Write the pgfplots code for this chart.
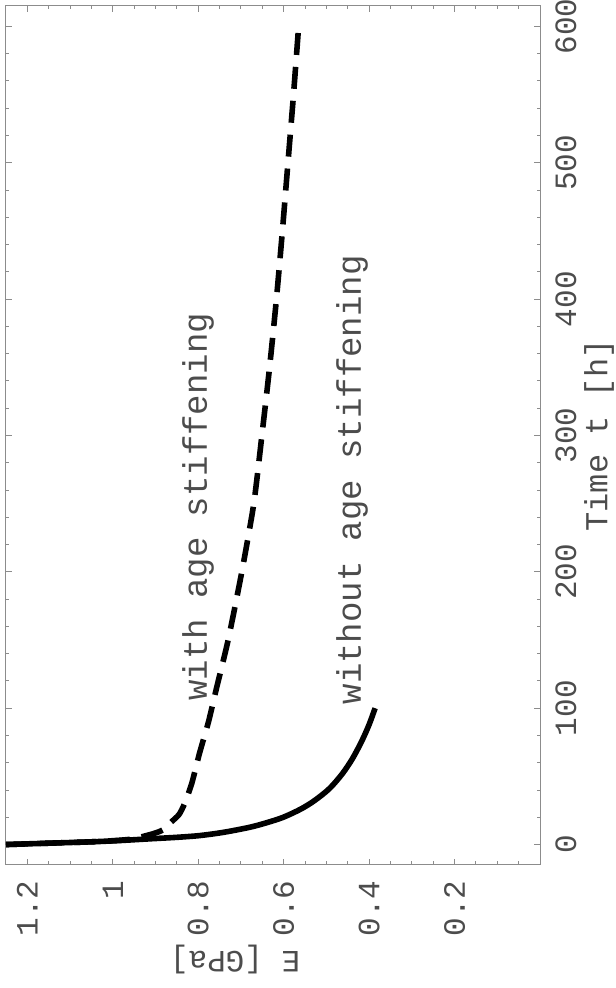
\documentclass[border=0pt]{standalone}
\usepackage{fontspec}
\setmainfont{Liberation Mono}
\usepackage{pgfplots}
\pgfplotsset{compat=1.18}
\begin{document}
\begin{tikzpicture}
\begin{axis}[
  scale only axis, width=267pt, height=429.5pt,
  x dir=reverse, xmin=0, xmax=1.25, ymin=-15, ymax=615,
  clip=false,
  xtick={0.2,0.4,0.6,0.8,1,1.2},
  minor xtick={0.05,0.1,0.15,0.25,0.3,0.35,0.45,0.5,0.55,0.65,0.7,0.75,0.85,0.9,0.95,1.05,1.1,1.15},
  ytick={0,100,200,300,400,500,600},
  minor ytick={20,40,60,80,120,140,160,180,220,240,260,280,320,340,360,380,420,440,460,480,520,540,560,580},
  xticklabel pos=left, yticklabel pos=right,
  xtick pos=both, ytick pos=both,
  tick align=inside,
  major tick length=3pt, minor tick length=1.75pt,
  axis line style={black!45, line width=0.5pt},
  major tick style={black!45, line width=0.5pt},
  minor tick style={black!45, line width=0.5pt},
  /pgf/number format/assume math mode=true,
  tick label style={font=\fontsize{15.5}{16}\selectfont, text=black!70},
  xticklabel style={rotate=90, anchor=east, inner sep=0pt},
  xticklabel shift=7.5pt,
  yticklabel style={rotate=90, anchor=north, inner sep=0pt},
  yticklabel shift=7.5pt,
  xlabel={E [GPa]},
  xlabel style={at={(axis description cs:0.429,-0.1106)}, anchor=center, rotate=180, inner sep=0pt, font=\fontsize{15.5}{16}\selectfont, text=black!70},
  ylabel={Time t [h]},
  ylabel style={at={(axis description cs:1.1105,0.5)}, anchor=center, inner sep=0pt, font=\fontsize{16}{17}\selectfont, text=black!70},
]
\addplot[black, line width=2.8pt, dash pattern=on 11pt off 6pt, line cap=butt, smooth, tension=0.4] coordinates {
 (1.25,0) (1.15,1) (1.05,2) (0.99,3) (0.955,4) (0.937,5.3) (0.905,8) (0.883,10.7)
 (0.864,16.3) (0.845,22) (0.832,30) (0.815,45) (0.797,67) (0.776,90) (0.757,115)
 (0.73,150) (0.698,200) (0.67,250) (0.651,300) (0.633,350) (0.617,400) (0.603,450)
 (0.590,500) (0.577,550) (0.565,600)
};
\addplot[black, line width=2.8pt, smooth, tension=0.5] coordinates {
 (1.25,0) (1.15,1) (1.05,2) (0.98,3) (0.913,4.2) (0.85,5.3) (0.796,6.6) (0.74,9)
 (0.679,12.7) (0.64,16) (0.601,20) (0.56,26) (0.528,32.2) (0.493,41) (0.463,51.8)
 (0.439,63) (0.417,76) (0.400,88) (0.386,100)
};
\node[rotate=90, inner sep=0pt, font=\fontsize{17}{18}\selectfont, text=black!70] at (axis cs:0.8006,247.6) {with age stiffening};
\node[rotate=90, inner sep=0pt, font=\fontsize{17}{18}\selectfont, text=black!70] at (axis cs:0.440,267.4) {without age stiffening};
\end{axis}
\pgfresetboundingbox
\path[use as bounding box] ([xshift=-3pt,yshift=-61.5pt]current axis.south west) rectangle ([xshift=37.5pt,yshift=3pt]current axis.north east);
\end{tikzpicture}
\end{document}
